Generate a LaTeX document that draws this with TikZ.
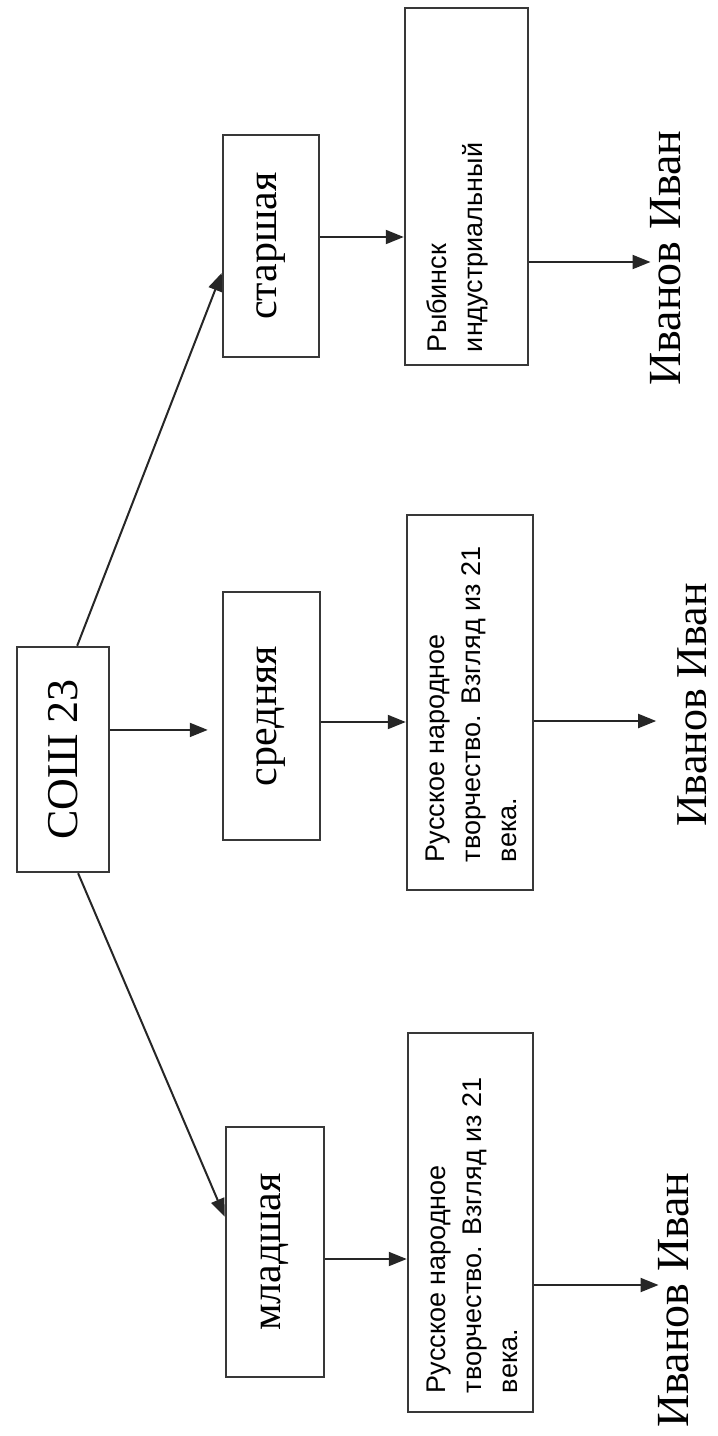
\documentclass[tikz,border=0pt]{standalone}
\usepackage{fontspec}
\setmainfont{Liberation Serif}
\newfontfamily\smallsans{Liberation Sans}
\usetikzlibrary{arrows.meta,calc}
\newcommand{\bigtxt}[3]{\rotatebox{90}{\parbox[t][#2pt][t]{#1pt}{\raggedright\smallsans\fontsize{27}{36}\selectfont #3}}}
\begin{document}
\begin{tikzpicture}[x=1pt,y=-1pt,
  box/.style={draw=black!78,line width=2.5pt,inner sep=0pt,fill=white},
  lbl/.style={inner sep=0pt},
  conn/.style={draw=black!85,line width=2pt,-{Triangle[length=18pt,width=14pt]}},
  bigfont/.style={font=\fontsize{44}{50}\selectfont},
  midfont/.style={font=\fontsize{42}{48}\selectfont},
  namefont/.style={font=\fontsize{46}{52}\selectfont}
]
\useasboundingbox[fill=white] (0,0) rectangle (718,1436);

% boxes
\node[box,bigfont,minimum width=92pt,minimum height=225pt] (soch) at (63,759.5) {\rotatebox{90}{СОШ 23}};
\node[box,midfont,minimum width=98pt,minimum height=250pt] (mlad) at (275,1252) {\rotatebox{90}{младшая}};
\node[box,midfont,minimum width=97pt,minimum height=248pt] (sred) at (271.5,716) {\rotatebox{90}{средняя}};
\node[box,midfont,minimum width=96pt,minimum height=222pt] (star) at (271,246) {\rotatebox{90}{старшая}};

\node[box,minimum width=125pt,minimum height=379pt] (big1) at (470.5,1222.5)
  {\bigtxt{341}{87}{Русское народное\\творчество. Взгляд из 21\\века.}};
\node[box,minimum width=126pt,minimum height=375pt] (big2) at (470,702.5)
  {\bigtxt{319}{88}{Русское народное\\творчество. Взгляд из 21\\века.}};
\node[box,minimum width=123pt,minimum height=357pt] (big3) at (466.5,186.5)
  {\bigtxt{331}{79}{Рыбинск\\индустриальный}};

\node[lbl,namefont] (ivan1) at (674,1300) {\rotatebox{90}{Иванов Иван}};
\node[lbl,namefont,font=\fontsize{44}{50}\selectfont] (ivan2) at (692,705) {\rotatebox{90}{Иванов Иван}};
\node[lbl,namefont] (ivan3) at (666,258) {\rotatebox{90}{Иванов Иван}};

% connectors from СОШ 23
\draw[conn] ($(soch.south west)!0.66!(soch.south east)$) -- ($(mlad.north west)!0.36!(mlad.south west)$);
\coordinate (s2) at ($(soch.north east)!0.37!(soch.south east)$);
\draw[conn,shorten >=14pt] (s2) -- (sred.west |- s2);
\draw[conn] ($(soch.north west)!0.65!(soch.north east)$) -- ($(star.north west)!0.62!(star.south west)$);

% level -> program
\coordinate (m1) at ([yshift=-7pt]mlad.east);
\draw[conn] (m1) -- (big1.west |- m1);
\coordinate (m2) at ([yshift=-6pt]sred.east);
\draw[conn] (m2) -- (big2.west |- m2);
\coordinate (m3) at ([yshift=9pt]star.east);
\draw[conn] (m3) -- (big3.west |- m3);

% program -> name
\coordinate (b1) at ([yshift=-62.5pt]big1.east);
\draw[conn] (b1) -- (ivan1.west |- b1);
\coordinate (b2) at ([yshift=-18.5pt]big2.east);
\draw[conn,shorten >=21pt] (b2) -- (ivan2.west |- b2);
\coordinate (b3) at ([yshift=-75.5pt]big3.east);
\draw[conn] (b3) -- (ivan3.west |- b3);
\end{tikzpicture}
\end{document}
